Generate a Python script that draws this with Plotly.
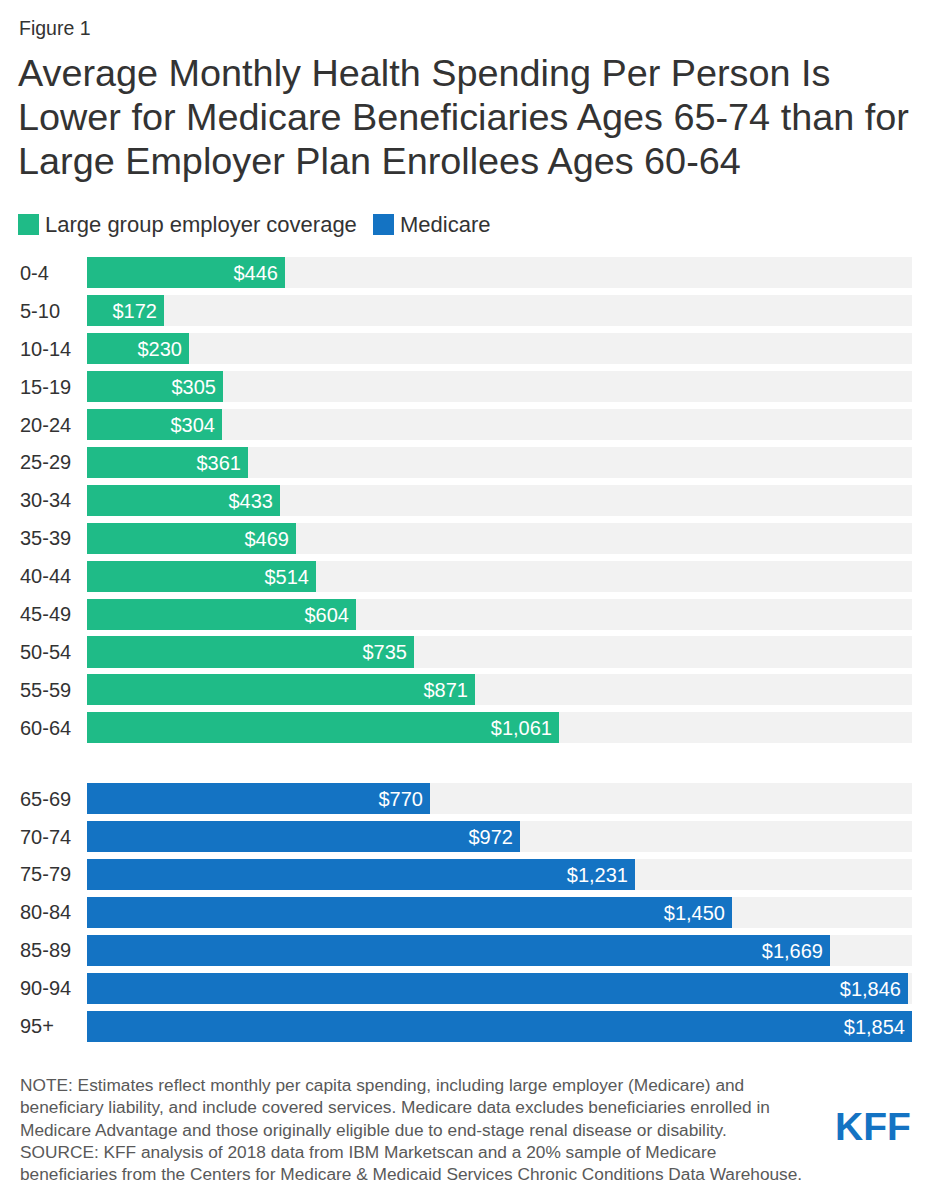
"""
KFF Figure 1: average monthly health spending per person by age group
(large group employer coverage vs Medicare), horizontal bars on grey tracks.
"""
import plotly.graph_objects as go

# ── data ──
employer_ages = ['0-4', '5-10', '10-14', '15-19', '20-24', '25-29', '30-34',
                 '35-39', '40-44', '45-49', '50-54', '55-59', '60-64']
employer_spend = [446, 172, 230, 305, 304, 361, 433, 469, 514, 604, 735, 871, 1061]

medicare_ages = ['65-69', '70-74', '75-79', '80-84', '85-89', '90-94', '95+']
medicare_spend = [770, 972, 1231, 1450, 1669, 1846, 1854]

GREEN = '#1fbb87'
BLUE = '#1473c3'
TRACK = '#f2f2f2'
TEXT = '#333333'
FONT = 'Liberation Sans, Arial, sans-serif'

# page body has an 8px margin -> build the figure 8px smaller and shift coords
OFF = 8
W, H = 927 - OFF, 1199 - OFF
L, R, T, B = 87 - OFF, 15, 254 - OFF, 154   # plot area
GAP = 0.87                                   # extra space between the two groups

x_max = max(employer_spend + medicare_spend)

# y slots (reversed axis): employer rows, then a gap, then medicare rows
y_emp = list(range(len(employer_ages)))
y_med = [len(employer_ages) + GAP + i for i in range(len(medicare_ages))]
y_top, y_bot = -0.5, y_med[-1] + 0.5


def px_x(px):
    """page px -> paper x"""
    return (px - OFF - L) / (W - L - R)


def px_y(py):
    """page px -> paper y"""
    return (H - B - (py - OFF)) / (H - T - B)


fig = go.Figure()

# grey tracks
fig.add_trace(go.Bar(
    x=[x_max] * (len(y_emp) + len(y_med)), y=y_emp + y_med,
    orientation='h', width=0.82, marker=dict(color=TRACK, line_width=0),
    hoverinfo='skip', showlegend=False,
))

for ys, vals, col in [(y_emp, employer_spend, GREEN), (y_med, medicare_spend, BLUE)]:
    fig.add_trace(go.Bar(
        x=vals, y=ys, orientation='h', width=0.82,
        marker=dict(color=col, line_width=0),
        text=[f"${v:,}\u2009" for v in vals],
        textposition='inside', insidetextanchor='end',
        textfont=dict(color='white', size=20, family=FONT),
        cliponaxis=False, showlegend=False,
    ))

# category labels, left aligned at the page edge
for ys, labels in [(y_emp, employer_ages), (y_med, medicare_ages)]:
    for yv, lab in zip(ys, labels):
        fig.add_annotation(
            x=px_x(18), xref='paper', y=yv, yref='y',
            text=lab, showarrow=False, xanchor='left', yanchor='middle',
            font=dict(size=20, color=TEXT, family=FONT),
        )

# "Figure 1" + title
fig.add_annotation(x=px_x(17), y=px_y(28), xref='paper', yref='paper',
                   text='Figure 1', showarrow=False, xanchor='left', yanchor='middle',
                   font=dict(size=19.5, color=TEXT, family=FONT))
title_lines = ['Average Monthly Health Spending Per Person Is',
               'Lower for Medicare Beneficiaries Ages 65-74 than for',
               'Large Employer Plan Enrollees Ages 60-64']
for i, line in enumerate(title_lines):
    fig.add_annotation(x=px_x(16), y=px_y(73 + 44 * i), xref='paper', yref='paper',
                       text=line, showarrow=False, xanchor='left', yanchor='middle',
                       font=dict(size=37.8, color=TEXT, family=FONT))

# legend (manual)
for x0, col, lab in [(18, GREEN, 'Large group employer coverage'), (373, BLUE, 'Medicare')]:
    fig.add_shape(type='rect', xref='paper', yref='paper',
                  x0=px_x(x0), x1=px_x(x0 + 21), y0=px_y(214), y1=px_y(235),
                  fillcolor=col, line_width=0)
    fig.add_annotation(x=px_x(x0 + 25), y=px_y(224), xref='paper', yref='paper',
                       text=lab, showarrow=False, xanchor='left', yanchor='middle',
                       font=dict(size=22, color=TEXT, family=FONT))

# footer
notes = [
    'NOTE: Estimates reflect monthly per capita spending, including large employer (Medicare) and',
    'beneficiary liability, and include covered services. Medicare data excludes beneficiaries enrolled in',
    'Medicare Advantage and those originally eligible due to end-stage renal disease or disability.',
    'SOURCE: KFF analysis of 2018 data from IBM Marketscan and a 20% sample of Medicare',
    'beneficiaries from the Centers for Medicare & Medicaid Services Chronic Conditions Data Warehouse.',
]
for i, line in enumerate(notes):
    fig.add_annotation(x=px_x(18), y=px_y(1085 + 22.3 * i), xref='paper', yref='paper',
                       text=line, showarrow=False, xanchor='left', yanchor='middle',
                       font=dict(size=17.3, color='#595959', family=FONT))

fig.add_annotation(x=px_x(913), y=px_y(1126), xref='paper', yref='paper',
                   text='<b>KFF</b>', showarrow=False, xanchor='right', yanchor='middle',
                   font=dict(size=39, color=BLUE, family=FONT))

fig.update_layout(
    width=W, height=H,
    margin=dict(l=L, r=R, t=T, b=B, pad=0),
    barmode='overlay', bargap=0,
    plot_bgcolor='white', paper_bgcolor='white',
    xaxis=dict(range=[0, x_max], visible=False, fixedrange=True),
    yaxis=dict(range=[y_bot, y_top], visible=False, fixedrange=True),
    showlegend=False,
    uniformtext=dict(minsize=20, mode='show'),
)

fig.write_html("out.html")
